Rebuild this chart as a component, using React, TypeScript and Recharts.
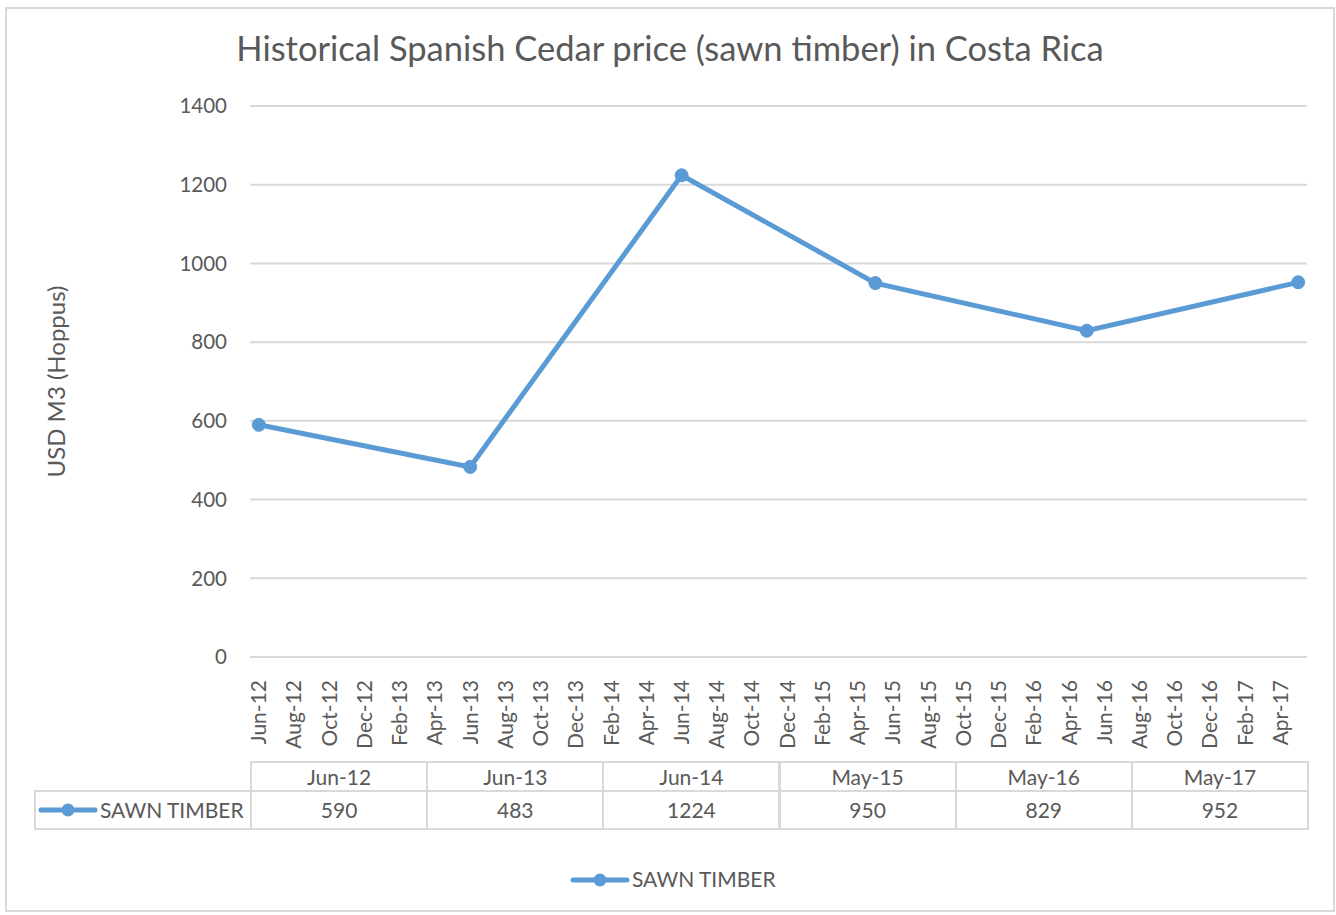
import React from 'react';
import { LineChart, Line, XAxis, YAxis, CartesianGrid, Legend, Label } from 'recharts';

const pointLabels = ['Jun-12', 'Jun-13', 'Jun-14', 'May-15', 'May-16', 'May-17'];
const pointMonth = [0, 12, 24, 35, 47, 59];
const sawnTimber = [590, 483, 1224, 950, 829, 952];

const tickPositions = [0, 2, 4, 6, 8, 10, 12, 14, 16, 18, 20, 22, 24, 26, 28, 30, 32, 34, 36, 38, 40, 42, 44, 46, 48, 50, 52, 54, 56, 58];
const tickLabels = ['Jun-12', 'Aug-12', 'Oct-12', 'Dec-12', 'Feb-13', 'Apr-13', 'Jun-13', 'Aug-13', 'Oct-13', 'Dec-13', 'Feb-14', 'Apr-14', 'Jun-14', 'Aug-14', 'Oct-14', 'Dec-14', 'Feb-15', 'Apr-15', 'Jun-15', 'Aug-15', 'Oct-15', 'Dec-15', 'Feb-16', 'Apr-16', 'Jun-16', 'Aug-16', 'Oct-16', 'Dec-16', 'Feb-17', 'Apr-17'];
const yTicks = [0, 200, 400, 600, 800, 1000, 1200, 1400];

const seriesName = 'SAWN TIMBER';
const title = 'Historical Spanish Cedar price (sawn timber) in Costa Rica';
const yLabel = 'USD M3 (Hoppus)';

const data = pointMonth.map((m, i) => ({ m, label: pointLabels[i], v: sawnTimber[i] }));

const FONT = 'Lato, "Open Sans", sans-serif';
const TEXT = '#595959';
const GRID = '#d9d9d9';
const BLUE = '#5b9bd5';

const PLOT_LEFT = 250;
const PLOT_RIGHT = 1307;

const XTick = (props: any) => {
  const { x, y, payload } = props;
  const idx = tickPositions.indexOf(payload.value);
  return (
    <text
      transform={`translate(${x},${y + 15}) rotate(-90)`}
      textAnchor="end"
      dy="0.35em"
      fill={TEXT}
      fontSize={21}
      fontFamily={FONT}
    >
      {tickLabels[idx]}
    </text>
  );
};

const LegendIcon = ({ x, y }: { x: number; y: number }) => (
  <svg width={60} height={20} style={{ position: 'absolute', left: x, top: y }}>
    <line x1={3} y1={10} x2={57} y2={10} stroke={BLUE} strokeWidth={5} strokeLinecap="round" />
    <circle cx={30} cy={10} r={6.5} fill={BLUE} />
  </svg>
);

const LegendContent = (props: any) => {
  const { payload } = props;
  return (
    <div style={{ position: 'relative', width: 1336, height: 30 }}>
      {(payload || []).map((p: any) => (
        <div key={p.value} style={{ position: 'absolute', left: 570, top: 0, height: 30 }}>
          <LegendIcon x={0} y={5} />
          <span style={{ position: 'absolute', left: 62, top: 1, whiteSpace: 'nowrap', fontFamily: FONT, fontSize: 21, color: TEXT }}>
            {p.value}
          </span>
        </div>
      ))}
    </div>
  );
};

const DataTable = () => {
  const colW = (PLOT_RIGHT - PLOT_LEFT) / pointLabels.length;
  const cell: React.CSSProperties = {
    position: 'absolute',
    boxSizing: 'border-box',
    fontFamily: FONT,
    fontSize: 21,
    color: TEXT,
    textAlign: 'center',
  };
  return (
    <div style={{ position: 'absolute', left: 0, top: 0 }}>
      {pointLabels.map((lab, i) => (
        <div
          key={'h' + i}
          style={{
            ...cell,
            left: PLOT_LEFT + i * colW,
            top: 761,
            width: colW + 2,
            height: 31,
            border: `2px solid ${GRID}`,
            lineHeight: '27px',
          }}
        >
          {lab}
        </div>
      ))}
      <div
        style={{
          ...cell,
          left: 34,
          top: 790,
          width: PLOT_LEFT - 34 + 2,
          height: 40,
          border: `2px solid ${GRID}`,
        }}
      >
        <LegendIcon x={2} y={8} />
        <span style={{ position: 'absolute', left: 64, top: 5, whiteSpace: 'nowrap' }}>{seriesName}</span>
      </div>
      {sawnTimber.map((v, i) => (
        <div
          key={'v' + i}
          style={{
            ...cell,
            left: PLOT_LEFT + i * colW,
            top: 790,
            width: colW + 2,
            height: 40,
            border: `2px solid ${GRID}`,
            lineHeight: '36px',
          }}
        >
          {v}
        </div>
      ))}
    </div>
  );
};

export default function App() {
  return (
    <div style={{ position: 'absolute', left: 0, top: 0, width: 1336, height: 915, background: '#fff', overflow: 'hidden' }}>
      <div
        style={{
          position: 'absolute',
          left: 5,
          top: 7,
          width: 1330,
          height: 905,
          border: `2px solid ${GRID}`,
          boxSizing: 'border-box',
        }}
      />
      <div
        style={{
          position: 'absolute',
          left: 0,
          top: 27,
          width: 1340,
          textAlign: 'center',
          fontFamily: FONT,
          fontSize: 34.5,
          color: TEXT,
          whiteSpace: 'nowrap',
        }}
      >
        {title}
      </div>
      <div style={{ position: 'absolute', left: 0, top: 0 }}>
        <LineChart
          width={1336}
          height={915}
          data={data}
          margin={{ top: 106, right: 1336 - PLOT_RIGHT, left: 0, bottom: 128 }}
        >
          <CartesianGrid vertical={false} stroke={GRID} strokeWidth={2} />
          <XAxis
            dataKey="m"
            type="number"
            domain={[-0.5, 59.5]}
            ticks={tickPositions}
            interval={0}
            tick={<XTick />}
            tickLine={false}
            axisLine={{ stroke: GRID, strokeWidth: 2 }}
            height={100}
            allowDecimals
          />
          <YAxis
            domain={[0, 1400]}
            ticks={yTicks}
            width={PLOT_LEFT}
            tickLine={false}
            axisLine={false}
            tickMargin={17}
            tick={{ fill: TEXT, fontSize: 20.5, fontFamily: FONT }}
          >
            <Label
              content={(p: any) => (
                <text
                  transform={`translate(57,${p.viewBox.y + p.viewBox.height / 2}) rotate(-90)`}
                  textAnchor="middle"
                  dy="0.35em"
                  fill={TEXT}
                  fontSize={24}
                  fontFamily={FONT}
                >
                  {yLabel}
                </text>
              )}
            />
          </YAxis>
          <Legend
            verticalAlign="bottom"
            content={<LegendContent />}
            wrapperStyle={{ position: 'absolute', left: 0, top: 865, width: 1336 }}
          />
          <Line
            type="linear"
            dataKey="v"
            name={seriesName}
            stroke={BLUE}
            strokeWidth={5}
            dot={{ r: 6.5, fill: BLUE, stroke: BLUE, strokeWidth: 1 }}
            isAnimationActive={false}
          />
        </LineChart>
      </div>
      <DataTable />
    </div>
  );
}
